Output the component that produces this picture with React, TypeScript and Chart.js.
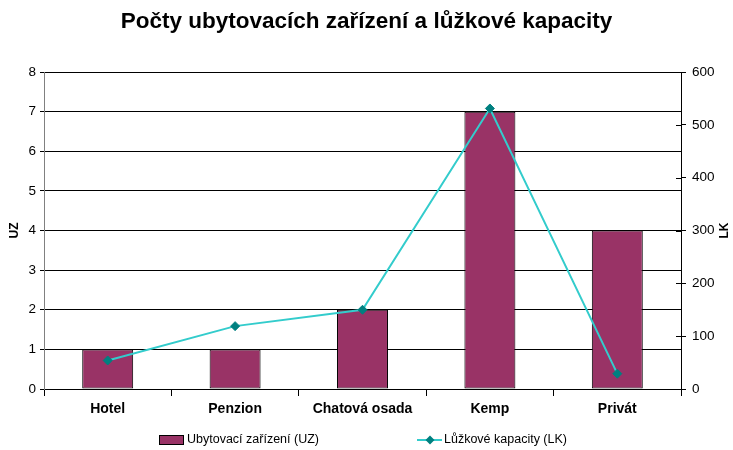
import React, { useEffect, useRef } from "react";
import { Chart, registerables } from "chart.js";

Chart.register(...registerables);

const TITLE = "Počty ubytovacích zařízení a lůžkové kapacity";
const categories = ["Hotel", "Penzion", "Chatová osada", "Kemp", "Privát"];
const uzLabel = "Ubytovací zařízení (UZ)";
const lkLabel = "Lůžkové kapacity (LK)";
const uzValues = [1, 1, 2, 7, 4];
const lkValues = [54, 119, 150, 531, 29];
const uzTicks = [0, 1, 2, 3, 4, 5, 6, 7, 8];
const lkTicks = [0, 100, 200, 300, 400, 500, 600];

const FONT = "'Liberation Sans', Arial, sans-serif";
const BAR_COLOR = "#993366";
const LINE_COLOR = "#33CCCC";
const MARKER_COLOR = "#008080";

const extrasPlugin = {
  id: "extras",
  afterDraw(chart: any) {
    const { ctx, chartArea } = chart;
    const y1 = chart.scales.y1;
    ctx.save();
    ctx.strokeStyle = "#000";
    ctx.lineWidth = 1;
    y1.ticks.forEach((t: any) => {
      const py = Math.round(y1.getPixelForValue(t.value)) + 0.5;
      ctx.beginPath();
      ctx.moveTo(chartArea.right - 5, py);
      ctx.lineTo(chartArea.right, py);
      ctx.stroke();
    });
    // right axis title, rotated -90
    ctx.fillStyle = "#000";
    ctx.font = `bold 12px ${FONT}`;
    ctx.textAlign = "center";
    ctx.textBaseline = "middle";
    ctx.translate(725, (chartArea.top + chartArea.bottom) / 2);
    ctx.rotate(-Math.PI / 2);
    ctx.fillText("LK", 0, 0);
    ctx.restore();

    // legend
    ctx.save();
    const ly = 440;
    ctx.font = `12.5px ${FONT}`;
    ctx.textBaseline = "middle";
    ctx.textAlign = "left";
    ctx.fillStyle = BAR_COLOR;
    ctx.fillRect(159, ly - 5, 25, 10);
    ctx.strokeStyle = "#000";
    ctx.lineWidth = 1;
    ctx.strokeRect(159.5, ly - 4.5, 24, 9);
    ctx.fillStyle = "#000";
    ctx.fillText(uzLabel, 187, ly);

    ctx.strokeStyle = LINE_COLOR;
    ctx.lineWidth = 2;
    ctx.beginPath();
    ctx.moveTo(417, ly);
    ctx.lineTo(442, ly);
    ctx.stroke();
    ctx.fillStyle = MARKER_COLOR;
    ctx.beginPath();
    ctx.moveTo(430, ly - 4.5);
    ctx.lineTo(434.5, ly);
    ctx.lineTo(430, ly + 4.5);
    ctx.lineTo(425.5, ly);
    ctx.closePath();
    ctx.fill();
    ctx.fillStyle = "#000";
    ctx.fillText(lkLabel, 444, ly);
    ctx.restore();
  },
};

export default function App() {
  const ref = useRef<HTMLCanvasElement | null>(null);

  useEffect(() => {
    document.body.style.margin = "0";
    const canvas = ref.current;
    if (!canvas) return;
    const chart = new Chart(canvas, {
      type: "bar",
      data: {
        labels: categories,
        datasets: [
          {
            type: "line",
            label: lkLabel,
            data: lkValues,
            yAxisID: "y1",
            borderColor: LINE_COLOR,
            borderWidth: 2,
            backgroundColor: MARKER_COLOR,
            pointStyle: "rectRot",
            pointRadius: 4.5,
            pointBackgroundColor: MARKER_COLOR,
            pointBorderColor: MARKER_COLOR,
            pointBorderWidth: 1,
            tension: 0,
            order: 0,
          } as any,
          {
            type: "bar",
            label: uzLabel,
            data: uzValues,
            yAxisID: "y",
            backgroundColor: BAR_COLOR,
            borderColor: "#000",
            borderWidth: 1,
            borderSkipped: false,
            categoryPercentage: 1,
            barPercentage: 0.4,
            order: 1,
          } as any,
        ],
      },
      options: {
        responsive: false,
        animation: false,
        layout: { padding: 0 },
        plugins: {
          legend: { display: false },
          tooltip: { enabled: false },
          title: {
            display: true,
            text: TITLE,
            color: "#000",
            font: { family: FONT, size: 22.5, weight: "bold" },
            padding: { top: 8.5, bottom: 36.5 },
          },
        },
        scales: {
          x: {
            type: "category",
            offset: true,
            grid: {
              offset: true,
              drawOnChartArea: false,
              drawTicks: true,
              tickLength: 7,
              color: "#000",
            },
            border: { display: true, color: "#000" },
            ticks: {
              color: "#000",
              font: { family: FONT, size: 14, weight: "bold" },
              padding: 5,
              maxRotation: 0,
              autoSkip: false,
            },
            afterFit: (s: any) => {
              s.height = 450 - 389;
            },
          },
          y: {
            type: "linear",
            position: "left",
            min: 0,
            max: 8,
            afterBuildTicks: (s: any) => {
              s.ticks = uzTicks.map((v) => ({ value: v }));
            },
            grid: {
              color: "#000",
              tickColor: "#000",
              tickLength: 4,
              drawTicks: true,
            },
            border: { display: true, color: "#808080", width: 1 },
            ticks: {
              color: "#000",
              font: { family: FONT, size: 13.5 },
              padding: 4,
            },
            title: {
              display: true,
              text: "UZ",
              color: "#000",
              font: { family: FONT, size: 12, weight: "bold" },
              padding: { top: 7, bottom: 0 },
            },
            afterFit: (s: any) => {
              s.width = 44;
            },
          },
          y1: {
            type: "linear",
            position: "right",
            min: 0,
            max: 600,
            afterBuildTicks: (s: any) => {
              s.ticks = lkTicks.map((v) => ({ value: v }));
            },
            grid: {
              drawOnChartArea: false,
              color: "#000",
              tickLength: 5,
            },
            border: { display: true, color: "#000", width: 1 },
            ticks: {
              color: "#000",
              font: { family: FONT, size: 13.5 },
              padding: 6,
            },
            afterFit: (s: any) => {
              s.width = 733 - 681;
            },
          },
        },
      },
      plugins: [extrasPlugin],
    });
    return () => chart.destroy();
  }, []);

  return (
    <div style={{ width: 733, height: 450, background: "#fff" }}>
      <canvas ref={ref} width={733} height={450} style={{ display: "block" }} />
    </div>
  );
}
